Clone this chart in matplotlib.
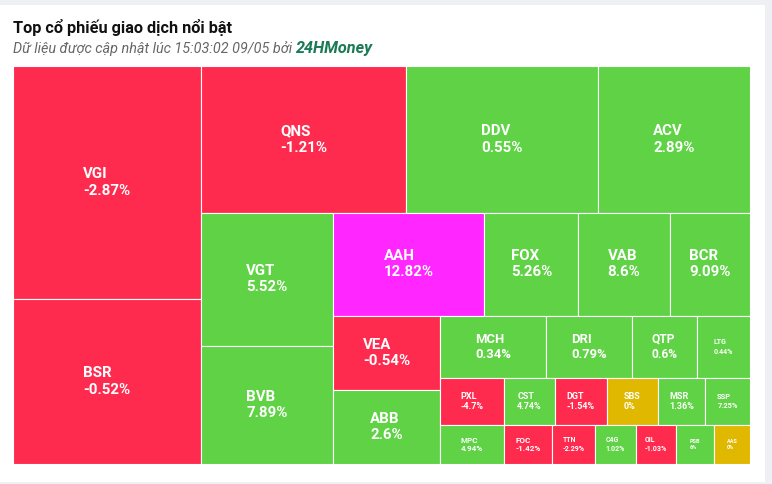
import matplotlib
matplotlib.use("Agg")
import matplotlib.pyplot as plt
from matplotlib.patches import Rectangle

# ---------------- data ----------------
tickers = ["VGI", "BSR", "QNS", "DDV", "ACV", "VGT", "BVB", "AAH", "FOX", "VAB",
           "BCR", "VEA", "ABB", "MCH", "DRI", "QTP", "LTG", "PXL", "MPC", "CST",
           "DGT", "SBS", "MSR", "SSP", "FOC", "TTN", "C4G", "OIL", "PSB", "AAS"]
values = [438, 310, 301, 282, 223, 176, 156, 156, 97, 94,
          83, 79, 79, 66, 53, 40, 33, 30, 25, 24,
          24, 24, 22, 21, 19, 17, 16, 16, 15, 14]
changes = [-2.87, -0.52, -1.21, 0.55, 2.89, 5.52, 7.89, 12.82, 5.26, 8.6,
           9.09, -0.54, 2.6, 0.34, 0.79, 0.6, 0.44, -4.7, 4.94, 4.74,
           -1.54, 0, 1.36, 7.25, -1.42, -2.29, 1.02, -1.03, 6, 0]
ceiling_tickers = ["AAH"]

title = "Top cổ phiếu giao dịch nổi bật"
subtitle = "Dữ liệu được cập nhật lúc 15:03:02 09/05 bởi "
source = "24HMoney"

# ---------------- style ----------------
C_UP, C_DOWN, C_REF, C_CEIL = "#5fd245", "#ff2b4f", "#e1b800", "#ff26ff"
FONT = ["Roboto", "DejaVu Sans"]
PX = 0.72  # px -> pt at dpi 100


def squarified(vals, x0, y0, w0, h0):
    """Highcharts-style squarified layout (alternating direction)."""
    total = sum(vals)
    areas = [w0 * h0 * v / total for v in vals]
    rects = []
    g = dict(height=h0, width=w0, direction=0, total=0.0, nW=0.0, lW=0.0,
             nH=0.0, lH=0.0, el=[], nR=0.0, lR=0.0, x=x0, y=y0)

    def ar(a, b):
        return max(a / b, b / a)

    def add(el):
        prev = g["el"][-1] if g["el"] else None
        g["total"] += el
        if g["direction"] == 0:
            g["lW"] = g["nW"]
            g["nW"] = g["total"] / g["height"]
            if prev is not None:
                lH = prev / g["lW"]
                g["lR"] = ar(g["lW"], lH)
                nH = prev / g["nW"]
                g["nR"] = ar(g["nW"], nH)
            else:
                g["lR"] = g["nR"] = 0.0
        else:
            g["lH"] = g["nH"]
            g["nH"] = g["total"] / g["width"]
            if prev is not None:
                lW = prev / g["lH"]
                g["lR"] = ar(lW, g["lH"])
                nW = prev / g["nH"]
                g["nR"] = ar(nW, g["nH"])
            else:
                g["lR"] = g["nR"] = 0.0
        g["el"].append(el)

    def calc(last):
        if last:
            gW, gH = g["nW"], g["nH"]
            items = list(g["el"])
            keep = None
        else:
            gW, gH = g["lW"], g["lH"]
            items = g["el"][:-1]
            keep = g["el"][-1]
        for p in items:
            if g["direction"] == 0:
                pw, ph = gW, p / gW
                rects.append((g["x"], g["y"], pw, ph))
                g["y"] += ph
            else:
                ph = gH
                pw = p / ph
                rects.append((g["x"], g["y"], pw, ph))
                g["x"] += pw
        g["nW"] = g["lW"] = 0.0
        g["el"] = []
        g["total"] = 0.0
        if g["direction"] == 0:
            g["width"] -= gW
        else:
            g["height"] -= gH
        g["y"] = y0 + (h0 - g["height"])
        g["x"] = x0 + (w0 - g["width"])
        g["direction"] = 1 - g["direction"]
        if keep is not None:
            add(keep)

    n = len(areas)
    for i, a in enumerate(areas):
        add(a)
        if g["nR"] > g["lR"]:
            calc(False)
        if i == n - 1:
            calc(True)
    return rects


def label_px(w, h):
    if h >= 70:
        return 15
    if h >= 55:
        return 13 if w >= 80 else (12 if w >= 60 else 7)
    if h >= 45:
        return 9 if w >= 47 else 7.5
    if w >= 45:
        return 8
    if w >= 40:
        return 7
    return 5.5


def fmt(v):
    return f"{v:g}%"


W, H = 772, 484
fig = plt.figure(figsize=(W / 100, H / 100), dpi=100)
fig.patch.set_facecolor("#eff0f3")
ax = fig.add_axes([0, 0, 1, 1])
ax.set_xlim(0, W)
ax.set_ylim(H, 0)
ax.axis("off")
ax.add_patch(Rectangle((0, 5), 765, 477, facecolor="white", edgecolor="none", zorder=0))

rects = squarified(values, 13, 66, 737, 398)
for (x, y, w, h), t, c in zip(rects, tickers, changes):
    if t in ceiling_tickers:
        col = C_CEIL
    elif c > 0:
        col = C_UP
    elif c < 0:
        col = C_DOWN
    else:
        col = C_REF
    ax.add_patch(Rectangle((x, y), w, h, facecolor=col, edgecolor="white",
                           linewidth=0.8, zorder=2))
    ax.text(x + w / 2, y + h / 2, f"{t}\n{fmt(c)}", ha="center", va="center",
            multialignment="left", fontsize=label_px(w, h) * PX, fontweight="bold",
            color="white", family=FONT, linespacing=1.2, zorder=3)

ax.text(13, 33, title, fontsize=16.2 * PX, fontweight="bold", color="#111111",
        family=FONT, va="baseline", ha="left")
st = ax.text(13, 53, subtitle, fontsize=14.4 * PX, style="italic", color="#666666",
             family=FONT, va="baseline", ha="left")
fig.canvas.draw()
bb = st.get_window_extent(renderer=fig.canvas.get_renderer())
x_end = ax.transData.inverted().transform((bb.x1, bb.y0))[0]
ax.text(x_end, 53, source, fontsize=16.2 * PX, style="italic", fontweight="bold",
        color="#1a7a55", family=FONT, va="baseline", ha="left")

fig.savefig("out.png", dpi=100, facecolor=fig.get_facecolor())
